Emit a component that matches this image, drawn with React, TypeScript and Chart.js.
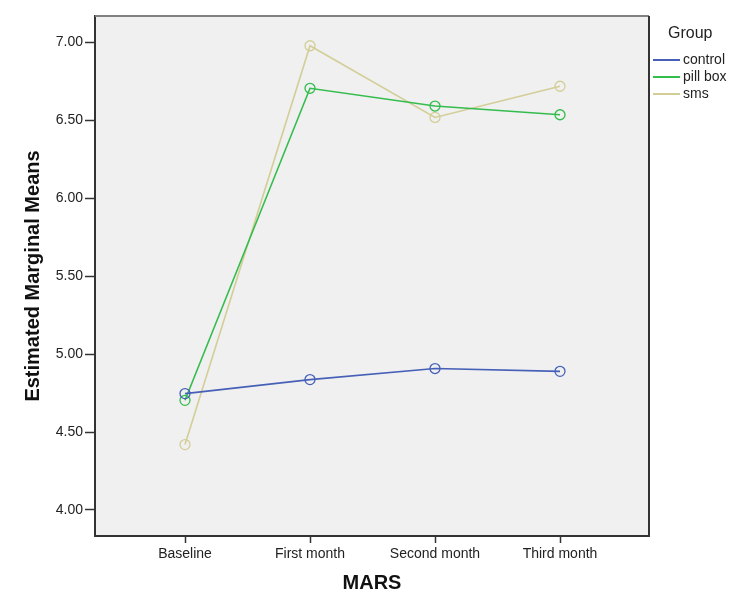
import React, { useEffect, useRef } from "react";
import { Chart, registerables } from "chart.js";

Chart.register(...registerables);

const categories = ["Baseline", "First month", "Second month", "Third month"];
const seriesNames = ["control", "pill box", "sms"];
const controlMeans = [4.747, 4.837, 4.908, 4.89];
const pillBoxMeans = [4.704, 6.707, 6.593, 6.537];
const smsMeans = [4.42, 6.98, 6.52, 6.72];
const yTickValues = [4.0, 4.5, 5.0, 5.5, 6.0, 6.5, 7.0];
const legendTitle = "Group";
const xAxisTitle = "MARS";
const yAxisTitle = "Estimated Marginal Means";

const seriesColors = ["#4660B8", "#34BC4C", "#D3CE97"];
const FONT = "'Liberation Sans', Arial, Helvetica, sans-serif";

const framePlugin = {
  id: "frame",
  beforeDraw(chart: any) {
    const { ctx, chartArea: a } = chart;
    ctx.save();
    ctx.fillStyle = "#F0F0F0";
    ctx.fillRect(a.left, a.top, a.right - a.left, a.bottom - a.top);
    ctx.restore();
  },
  afterDraw(chart: any) {
    const { ctx, chartArea: a } = chart;
    ctx.save();
    ctx.lineWidth = 2;
    ctx.strokeStyle = "#808080";
    ctx.beginPath();
    ctx.moveTo(a.left, a.top);
    ctx.lineTo(a.right, a.top);
    ctx.stroke();
    ctx.strokeStyle = "#333333";
    ctx.beginPath();
    ctx.moveTo(a.right, a.top);
    ctx.lineTo(a.right, a.bottom);
    ctx.stroke();

    // legend
    const lx = a.right + 4;
    ctx.fillStyle = "#222222";
    ctx.textBaseline = "middle";
    ctx.textAlign = "left";
    ctx.font = `16px ${FONT}`;
    ctx.fillText(legendTitle, lx + 15, 34);
    ctx.font = `14px ${FONT}`;
    chart.data.datasets.forEach((ds: any, i: number) => {
      const y = 60 + i * 17;
      ctx.strokeStyle = ds.borderColor;
      ctx.lineWidth = 2;
      ctx.beginPath();
      ctx.moveTo(lx, y);
      ctx.lineTo(lx + 27, y);
      ctx.stroke();
      ctx.fillStyle = "#222222";
      ctx.fillText(ds.label, lx + 30, y);
    });
    ctx.restore();
  },
};

export default function App() {
  const ref = useRef<HTMLCanvasElement | null>(null);

  useEffect(() => {
    if (!ref.current) return;
    const seriesValues = [controlMeans, pillBoxMeans, smsMeans];
    const chart = new Chart(ref.current, {
      type: "line",
      data: {
        datasets: seriesValues.map((vals, si) => ({
          label: seriesNames[si],
          data: vals.map((v, i) => ({ x: i + 1, y: v })),
          borderColor: seriesColors[si],
          borderWidth: 1.6,
          pointStyle: "circle",
          pointRadius: 5,
          pointBorderWidth: 1.3,
          pointBorderColor: seriesColors[si],
          pointBackgroundColor: "rgba(0,0,0,0)",
          tension: 0,
        })),
      },
      options: {
        animation: false,
        responsive: false,
        events: [],
        layout: { padding: { left: 0, top: 16, right: 95, bottom: 0 } },
        plugins: {
          legend: { display: false },
          tooltip: { enabled: false },
        },
        scales: {
          x: {
            type: "linear",
            min: 0.28,
            max: 4.712,
            afterBuildTicks: (s: any) => {
              s.ticks = categories.map((_, i) => ({ value: i + 1 }));
            },
            afterFit: (s: any) => {
              s.height = 63;
            },
            ticks: {
              autoSkip: false,
              maxRotation: 0,
              padding: 3,
              color: "#222222",
              font: { family: FONT, size: 14 },
              callback: (v: any) => categories[Math.round(Number(v)) - 1] ?? "",
            },
            grid: {
              drawOnChartArea: false,
              drawTicks: true,
              tickLength: 7,
              tickColor: "#333333",
              tickWidth: 1.5,
            },
            border: { display: true, color: "#333333", width: 2 },
            title: {
              display: true,
              text: xAxisTitle,
              color: "#111111",
              font: { family: FONT, size: 20, weight: "bold" },
              padding: { top: 0, bottom: 4 },
            },
          },
          y: {
            type: "linear",
            min: 3.833,
            max: 7.171,
            afterBuildTicks: (s: any) => {
              s.ticks = yTickValues.map((v) => ({ value: v }));
            },
            afterFit: (s: any) => {
              s.width = 95;
            },
            ticks: {
              padding: 2,
              color: "#222222",
              font: { family: FONT, size: 14 },
              callback: (v: any) => Number(v).toFixed(2),
            },
            grid: {
              drawOnChartArea: false,
              drawTicks: true,
              tickLength: 10,
              tickColor: "#333333",
              tickWidth: 1.5,
            },
            border: { display: true, color: "#333333", width: 2 },
            title: {
              display: true,
              text: yAxisTitle,
              color: "#111111",
              font: { family: FONT, size: 20, weight: "bold" },
              padding: { top: 21, bottom: 0 },
            },
          },
        },
      },
      plugins: [framePlugin],
    } as any);
    return () => chart.destroy();
  }, []);

  return (
    <div style={{ position: "absolute", left: 0, top: 0, width: 744, height: 599, background: "#ffffff" }}>
      <canvas ref={ref} width={744} height={599} style={{ width: 744, height: 599, display: "block" }} />
    </div>
  );
}
